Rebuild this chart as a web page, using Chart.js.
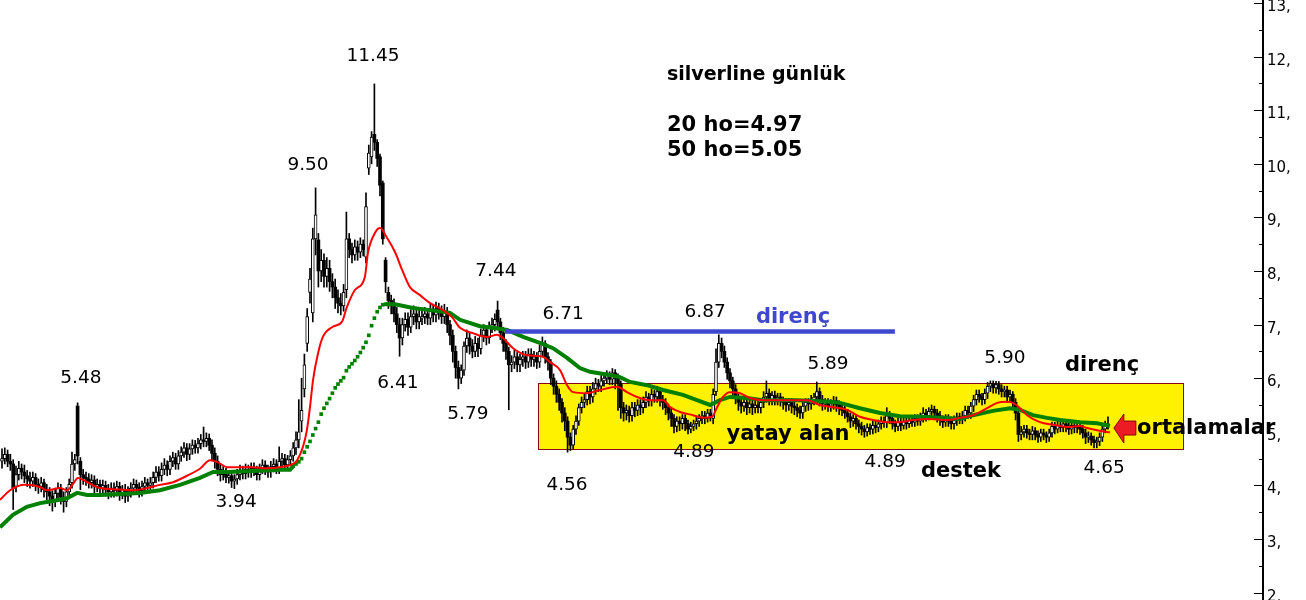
<!DOCTYPE html>
<html>
<head>
<meta charset="utf-8">
<script src="https://cdn.jsdelivr.net/npm/chart.js@4/dist/chart.umd.min.js"></script>
<style>
html,body{margin:0;padding:0;background:#fff;}
canvas{display:block;}
</style>
</head>
<body>
<canvas id="c" width="1306" height="600"></canvas>
<script>
// ---- DATA (prices in hundredths of TL, one entry per trading day) ----
const opens = [
445,450,458,445,440,398,420,432,425,418,
412,408,415,402,398,405,392,388,380,372,
385,395,378,370,388,405,440,548,445,420,
415,412,405,410,398,402,395,400,392,388,
395,390,398,385,392,380,388,395,402,396,
390,398,405,400,405,415,425,418,430,438,
430,445,452,440,455,462,470,458,468,475,
470,478,485,482,488,475,460,445,430,420,
425,415,418,408,412,420,428,422,430,425,
432,428,420,432,438,430,425,435,440,432,
445,450,438,448,455,470,485,520,580,665,
760,722,860,858,800,820,790,805,780,770,
750,740,735,765,860,840,830,845,835,850,
826,992,1013,1055,1040,1013,964,820,760,745,
735,720,700,675,700,710,695,715,720,705,
712,715,720,712,725,718,730,722,715,725,
700,680,650,620,600,615,660,675,660,650,
665,655,680,690,675,695,700,727,705,685,
665,650,625,630,640,625,635,640,630,645,
635,640,630,650,665,640,630,600,585,570,
555,535,520,490,475,505,520,545,555,560,
575,565,580,590,585,595,600,605,598,610,
600,590,545,535,540,530,545,540,550,545,
555,565,558,570,565,575,560,555,545,535,
525,510,520,515,525,515,505,510,515,520,
525,530,525,535,525,575,630,665,650,630,
610,595,580,565,555,548,555,545,552,545,
550,545,555,565,572,560,568,560,565,558,
555,550,555,548,545,540,535,548,555,552,
560,565,575,560,552,555,548,552,558,550,
545,540,535,528,520,525,515,510,505,500,
508,505,512,508,515,520,518,530,525,515,
510,518,512,520,515,522,518,525,520,528,
535,530,538,542,535,530,522,518,525,520,
515,522,528,525,530,540,535,548,560,570,
565,560,572,585,590,582,588,580,575,578,
565,570,555,535,495,500,505,498,495,502,
495,490,498,494,490,498,510,505,512,508,
515,510,505,512,508,512,505,498,490,492,
485,480,482,490,505,512
];
const highs = [
468,470,466,458,448,436,445,440,438,428,
425,425,422,412,415,412,402,396,390,395,
405,402,388,396,412,462,458,554,452,430,
425,422,420,418,412,410,410,408,402,405,
405,408,406,400,402,398,405,412,410,405,
408,415,412,415,425,435,435,442,450,446,
455,462,460,465,472,480,478,478,485,484,
488,495,509,498,496,485,470,455,440,435,
432,428,425,420,430,438,436,440,438,442,
442,436,440,448,446,438,445,450,448,472,
460,458,456,465,480,500,560,600,645,730,
805,880,955,870,840,832,825,820,795,785,
765,758,775,910,870,852,858,856,862,858,
946,1035,1060,1149,1045,1018,968,825,770,755,
748,732,712,712,722,722,728,735,732,728,
728,732,730,738,736,742,740,735,738,732,
708,690,660,632,625,668,690,686,672,678,
675,692,700,698,705,712,720,744,712,695,
672,658,642,652,648,645,650,650,655,655,
650,648,662,677,670,648,635,608,595,580,
562,545,528,498,512,530,552,565,570,585,
585,592,600,598,605,610,614,612,618,616,
608,595,555,550,548,555,555,560,560,565,
575,572,580,578,585,582,568,562,552,545,
532,528,528,532,532,522,518,522,528,532,
538,538,542,542,580,655,681,675,660,638,
618,602,588,572,562,565,562,560,560,558,
558,562,575,595,580,575,576,572,572,565,
562,562,562,555,552,548,555,562,562,568,
572,593,582,568,562,562,560,566,565,558,
552,548,542,535,532,532,522,518,512,515,
515,520,520,522,528,528,545,538,532,522,
525,525,528,528,530,530,532,532,535,545,
542,545,550,548,542,538,530,532,532,528,
530,535,535,538,548,548,555,568,578,578,
572,580,592,595,595,594,594,588,585,585,
578,575,562,540,510,512,512,505,510,508,
502,505,505,500,505,518,518,520,518,522,
522,518,520,518,520,518,512,505,500,498,
492,490,498,512,520,528
];
const lows = [
432,440,435,428,355,388,410,412,405,398,
395,398,390,385,388,378,372,362,352,360,
372,365,350,360,378,395,428,440,392,402,
400,395,395,385,388,382,385,380,375,378,
378,380,372,375,368,370,378,385,385,378,
380,388,390,388,395,405,408,408,420,418,
420,435,430,430,445,452,446,448,458,460,
460,468,472,472,465,448,432,418,408,410,
405,404,396,394,402,410,412,412,415,415,
418,410,410,422,420,415,415,425,422,422,
435,428,428,438,445,458,470,500,565,650,
740,705,830,770,780,770,770,762,750,730,
722,718,725,750,825,815,820,820,825,828,
815,980,1000,1025,995,940,850,760,730,720,
705,685,641,662,688,680,685,700,692,692,
700,702,700,700,705,705,710,702,702,685,
662,630,600,580,590,605,648,645,638,640,
640,645,668,662,665,685,688,692,672,650,
635,541,612,618,612,612,622,618,620,622,
622,618,620,640,628,615,588,570,555,540,
518,502,462,465,468,495,512,535,545,550,
552,555,570,575,575,585,590,588,588,580,
540,525,520,522,518,520,528,530,532,535,
545,548,548,555,555,548,542,532,522,510,
498,500,502,505,502,496,498,502,505,510,
515,515,518,520,515,568,620,638,620,598,
582,568,552,540,535,538,532,535,532,535,
535,535,545,555,550,550,550,550,548,542,
538,540,535,532,528,525,525,538,540,542,
550,555,548,540,542,538,538,542,538,532,
530,525,518,508,510,505,498,494,490,492,
495,496,498,500,505,508,508,515,505,500,
502,502,505,505,508,510,510,512,512,518,
520,522,528,525,518,512,508,510,510,505,
505,512,515,515,520,525,525,538,550,555,
550,552,562,575,572,572,570,565,565,555,
555,545,522,482,485,490,488,485,485,485,
480,482,485,480,482,490,496,498,500,500,
500,495,496,498,498,495,488,478,480,475,
470,470,474,482,498,505
];
const closes = [
450,458,445,440,395,420,432,425,418,412,
408,415,402,398,405,392,388,380,372,385,
395,378,370,388,402,440,448,455,420,415,
412,405,410,398,402,395,400,392,388,395,
390,398,385,392,380,388,395,402,396,390,
398,405,400,405,415,425,418,430,438,430,
445,452,440,455,462,470,458,468,475,470,
478,485,482,488,475,460,445,430,420,425,
415,418,408,412,420,428,422,430,425,432,
428,420,432,438,430,425,435,440,432,445,
450,438,448,455,470,485,500,540,625,715,
785,860,905,800,820,790,805,780,770,750,
740,735,760,860,840,830,845,835,850,840,
920,1020,1050,1040,1010,960,860,780,745,735,
720,700,675,700,710,695,715,720,705,715,
715,720,712,725,718,730,722,715,725,700,
680,650,620,600,615,660,675,660,650,665,
655,680,690,675,695,700,710,705,685,665,
650,625,630,640,625,635,640,630,645,635,
640,630,650,665,640,630,600,585,570,555,
535,520,490,475,505,520,545,555,560,575,
565,580,590,585,595,600,605,598,610,600,
590,545,535,540,530,545,540,550,545,555,
565,558,570,565,575,560,555,545,535,525,
510,520,515,525,515,505,510,515,520,525,
530,525,535,530,570,630,665,650,630,610,
595,580,565,555,548,555,545,552,545,550,
545,555,565,572,560,568,560,565,558,555,
550,555,548,545,540,535,548,555,552,560,
565,575,560,552,555,548,552,558,550,545,
540,535,528,520,525,515,510,505,500,508,
505,512,508,515,520,518,530,525,515,510,
518,512,520,515,522,518,525,520,528,535,
530,538,542,535,530,522,518,525,520,515,
522,528,525,530,540,535,548,560,570,565,
560,572,585,590,582,588,580,575,578,565,
570,555,535,495,500,505,498,495,502,495,
490,498,494,490,498,510,505,512,508,515,
510,505,512,508,512,505,498,490,492,485,
480,482,490,505,512,515
];

// 20-day moving average (red) at bar positions
const ma20Idx = [-0.7,2.9,8.2,13.6,16.1,20.7,23.2,25.4,27.1,30.4,35,39.6,46.8,51.8,56.4,61.1,66.1,70.7,74.3,76.8,80.4,85,89.6,94.6,99.3,103.9,105.4,107.5,108.9,110,111.1,112.9,114.6,118.2,121.4,123.2,126.1,129.6,130.7,133.2,135,137.5,140.4,142.9,145.7,149.3,152.9,157.5,160.7,163.6,168.2,173.2,176.8,178.9,182.5,187.5,193.2,195.7,199.3,201.8,204,208.9,213.6,219.6,223.2,226.8,231.4,236.1,238.6,242.1,246.8,250.4,253.6,255.4,257.5,260,263.6,267.1,271.8,278.9,287.5,292.1,296.8,301.8,306.4,311.1,316.1,320.7,325.4,331.4,337.5,342.1,346.8,351.8,355.4,358.9,361.1,363.6,366.1,370.7,375.4,380.4,385,387.5,391.1,395.7];
const ma20Val = [3.73,3.91,4.01,3.97,3.91,3.95,3.91,4.03,4.14,4.06,3.95,3.93,3.91,3.95,4.01,4.06,4.18,4.31,4.47,4.44,4.34,4.34,4.34,4.32,4.34,4.40,4.47,4.72,5.03,5.46,5.97,6.47,6.77,6.96,7.05,7.33,7.65,7.89,8.34,8.71,8.80,8.62,8.35,8.02,7.70,7.55,7.40,7.27,7.14,6.94,6.84,6.77,6.81,6.75,6.56,6.43,6.40,6.30,6.15,5.87,5.74,5.72,5.78,5.84,5.74,5.65,5.59,5.59,5.46,5.37,5.31,5.26,5.28,5.46,5.65,5.74,5.72,5.63,5.59,5.59,5.59,5.50,5.46,5.41,5.28,5.22,5.18,5.18,5.22,5.24,5.22,5.26,5.31,5.44,5.54,5.56,5.54,5.44,5.31,5.18,5.13,5.09,5.11,5.07,5.03,4.99];

// 50-day moving average (green)
const ma50Idx = [-0.7,3.9,8.9,13.6,18.2,23.2,26.8,30.4,35,42.1,49.3,56.4,63.6,70.7,75.4,80.4,89.6,99.3,102.9,
104,105,106,107,108,109,110,111,112,113,114,115,116,117,118,119,120,121,122,123,124,125,126,127,128,129,130,131,132,133,134,135,136,137,
140.4,146.8,152.9,160,163.6,170.7,175.4,180.4,186.1,192.1,196.8,201.8,206.4,210,217.1,220.7,224.3,230.4,236.1,243.2,248.2,252.9,256.4,260,266.1,271.8,283.9,295.7,299.3,306.4,313.6,320.7,327.9,335,342.1,346.8,353.9,360,363.6,368.2,373.2,377.9,385,391.1,395.7];
const ma50Val = [3.22,3.45,3.60,3.67,3.71,3.76,3.86,3.82,3.82,3.84,3.86,3.91,4.01,4.14,4.25,4.25,4.27,4.29,4.29,
4.36,4.40,4.44,4.50,4.62,4.72,4.82,4.94,5.06,5.18,5.33,5.44,5.53,5.62,5.72,5.82,5.89,5.95,6.01,6.14,6.21,6.27,6.33,6.40,6.48,6.57,6.67,6.80,6.98,7.12,7.24,7.32,7.37,7.38,
7.38,7.31,7.27,7.22,7.09,6.97,6.94,6.90,6.77,6.66,6.56,6.38,6.19,6.12,6.06,6.02,5.93,5.87,5.78,5.69,5.59,5.50,5.59,5.65,5.63,5.59,5.59,5.56,5.54,5.44,5.35,5.29,5.28,5.26,5.24,5.31,5.39,5.44,5.41,5.31,5.26,5.22,5.18,5.16,5.11];

const yTickValues = [2,3,4,5,6,7,8,9,10,11,12,13];

// annotations drawn on the chart (data coordinates: bar index, price)
const resistance = {from: 179.6, to: 318.9, level: 6.87};
const rangeBox = {from: 191.4, to: 421.8, top: 5.91, bottom: 4.68};
const arrowTip = {idx: 397.1, val: 5.07};
const priceNotes = [
  ['5.48', 28.2, 6.00], ['3.94', 83.6, 3.69], ['9.50', 109.3, 9.98], ['11.45', 132.5, 12.01],
  ['6.41', 141.4, 5.91], ['7.44', 176.4, 8.00], ['5.79', 166.4, 5.33], ['6.71', 200.4, 7.20],
  ['6.87', 251.1, 7.24], ['5.89', 295.0, 6.26], ['4.56', 201.8, 4.01], ['4.89', 247.1, 4.62],
  ['4.89', 315.4, 4.44], ['5.90', 358.2, 6.38], ['4.65', 393.6, 4.32]
];
const boldNotes = [
  ['direnç', 282.5, 7.14, '#3f48cc', 'center'],
  ['yatay alan', 280.7, 4.94, '#000', 'center'],
  ['destek', 342.5, 4.25, '#000', 'center'],
  ['direnç', 392.9, 6.23, '#000', 'center'],
  ['ortalamalar', 405.4, 5.07, '#000', 'left'],
  ['20 ho=4.97', 237.5, 10.71, '#000', 'left'],
  ['50 ho=5.05', 237.5, 10.24, '#000', 'left']
];
const titleNote = ['silverline günlük', 237.5, 11.66];

// ---- build datasets ----
const wicks = [], upBodies = [], downBodies = [];
for (let i = 0; i < closes.length; i++) {
  const o = opens[i] / 100, c = closes[i] / 100;
  wicks.push({x: i, y: [lows[i] / 100, highs[i] / 100]});
  if (c > o) upBodies.push({x: i, y: [o, c]});
  else downBodies.push({x: i, y: [c, o]});
}
const ma20 = ma20Idx.map((x, k) => ({x, y: ma20Val[k]}));
const ma50 = ma50Idx.map((x, k) => ({x, y: ma50Val[k]}));
const dotFrom = 104, dotTo = 137;

const overlay = {
  id: 'overlay',
  beforeDatasetsDraw(chart) {
    const {ctx, scales: {x, y}} = chart;
    const x0 = x.getPixelForValue(rangeBox.from), x1 = x.getPixelForValue(rangeBox.to);
    const y0 = y.getPixelForValue(rangeBox.top), y1 = y.getPixelForValue(rangeBox.bottom);
    ctx.save();
    ctx.fillStyle = '#fff200';
    ctx.fillRect(Math.round(x0), Math.round(y0), Math.round(x1 - x0), Math.round(y1 - y0));
    ctx.strokeStyle = '#880015';
    ctx.lineWidth = 1;
    ctx.strokeRect(Math.round(x0) + 0.5, Math.round(y0) + 0.5, Math.round(x1 - x0), Math.round(y1 - y0));
    ctx.restore();
  },
  afterDraw(chart) {
    const {ctx, scales: {x, y}, chartArea} = chart;
    ctx.save();
    // resistance line
    const ry = y.getPixelForValue(resistance.level);
    ctx.strokeStyle = '#3f48cc';
    ctx.lineWidth = 4.5;
    ctx.beginPath();
    ctx.moveTo(x.getPixelForValue(resistance.from), ry);
    ctx.lineTo(x.getPixelForValue(resistance.to), ry);
    ctx.stroke();
    // arrow
    const ax = x.getPixelForValue(arrowTip.idx), ay = y.getPixelForValue(arrowTip.val);
    ctx.beginPath();
    ctx.moveTo(ax, ay);
    ctx.lineTo(ax + 10, ay - 14);
    ctx.lineTo(ax + 10, ay - 7);
    ctx.lineTo(ax + 22, ay - 7);
    ctx.lineTo(ax + 22, ay + 7);
    ctx.lineTo(ax + 10, ay + 7);
    ctx.lineTo(ax + 10, ay + 15);
    ctx.closePath();
    ctx.fillStyle = '#ed1c24';
    ctx.fill();
    ctx.strokeStyle = '#880015';
    ctx.lineWidth = 1;
    ctx.stroke();
    // price notes
    ctx.fillStyle = '#000';
    ctx.textBaseline = 'middle';
    ctx.textAlign = 'center';
    ctx.font = '18.5px "DejaVu Sans"';
    priceNotes.forEach(([t, i, v]) => ctx.fillText(t, x.getPixelForValue(i), y.getPixelForValue(v)));
    ctx.font = 'bold 21px "DejaVu Sans"';
    boldNotes.forEach(([t, i, v, col, al]) => {
      ctx.fillStyle = col; ctx.textAlign = al;
      ctx.fillText(t, x.getPixelForValue(i), y.getPixelForValue(v));
    });
    ctx.fillStyle = '#000';
    ctx.textAlign = 'left';
    ctx.font = 'bold 19px "DejaVu Sans"';
    ctx.fillText(titleNote[0], x.getPixelForValue(titleNote[1]), y.getPixelForValue(titleNote[2]));
    // right price axis
    const axX = chartArea.right;
    ctx.strokeStyle = '#000';
    ctx.lineWidth = 2;
    ctx.beginPath();
    ctx.moveTo(axX, 0); ctx.lineTo(axX, chart.height);
    ctx.stroke();
    ctx.lineWidth = 1;
    ctx.font = '15px "DejaVu Sans"';
    ctx.textBaseline = 'alphabetic';
    yTickValues.forEach(v => {
      const py = Math.round(y.getPixelForValue(v)) + 0.5;
      ctx.beginPath(); ctx.moveTo(axX - 9, py); ctx.lineTo(axX, py); ctx.stroke();
      const ph = Math.round(y.getPixelForValue(v - 0.5)) + 0.5;
      if (v > yTickValues[0]) { ctx.beginPath(); ctx.moveTo(axX - 4, ph); ctx.lineTo(axX, ph); ctx.stroke(); }
      ctx.fillText(v + ',', axX + 4, py + 7.5);
    });
    ctx.restore();
  }
};

new Chart(document.getElementById('c'), {
  type: 'bar',
  data: {
    datasets: [
      {type: 'line', label: '20 ho', data: ma20, borderColor: '#ff0000', borderWidth: 2,
       pointRadius: 0, cubicInterpolationMode: 'monotone', order: 0},
      {type: 'line', label: '50 ho', data: ma50, borderColor: '#008000', borderWidth: 4,
       pointStyle: 'rect', pointBackgroundColor: '#008000', pointBorderWidth: 0,
       pointRadius: c => (c.raw && c.raw.x >= dotFrom && c.raw.x <= dotTo) ? 2.6 : 0,
       segment: {borderColor: c => (c.p0.parsed.x >= dotFrom && c.p1.parsed.x <= dotTo) ? 'rgba(0,0,0,0)' : '#008000'},
       order: 1},
      {label: 'up', data: upBodies, backgroundColor: '#ffffff', borderColor: '#000', borderWidth: 1,
       borderSkipped: false, barThickness: 3, grouped: false, minBarLength: 1, order: 2},
      {label: 'down', data: downBodies, backgroundColor: '#000', borderWidth: 0,
       barThickness: 3, grouped: false, minBarLength: 1, order: 3},
      {label: 'wick', data: wicks, backgroundColor: '#000', borderWidth: 0,
       barThickness: 1, grouped: false, order: 4}
    ]
  },
  options: {
    responsive: false,
    devicePixelRatio: 1,
    animation: false,
    layout: {padding: {left: 0, right: 43, top: 0, bottom: 0}},
    plugins: {legend: {display: false}, tooltip: {enabled: false}},
    scales: {
      x: {type: 'linear', display: false, min: -0.71, max: 450.36, offset: false},
      y: {type: 'linear', display: false, min: 1.862, max: 13.056}
    }
  },
  plugins: [overlay]
});
</script>
</body>
</html>
